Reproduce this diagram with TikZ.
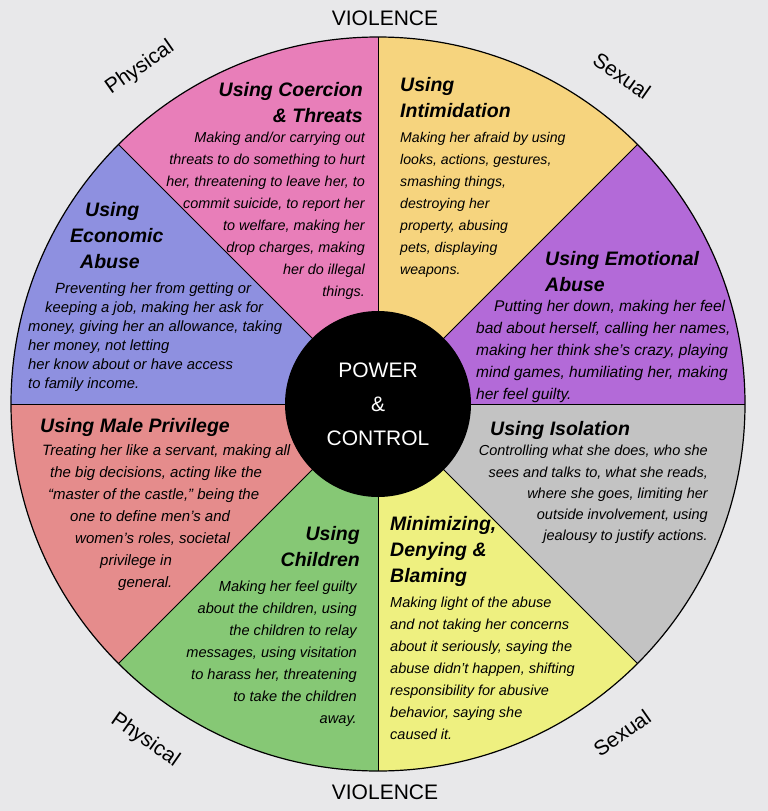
\documentclass[tikz,border=0pt]{standalone}
\usepackage{fontspec}
\setmainfont{Liberation Sans}
\definecolor{bgc}{HTML}{E8E8EA}
\definecolor{cOrange}{HTML}{F6D47E}
\definecolor{cPink}{HTML}{E87EB9}
\definecolor{cBlue}{HTML}{8E90E0}
\definecolor{cPurple}{HTML}{B36AD8}
\definecolor{cSalmon}{HTML}{E58C8C}
\definecolor{cGreen}{HTML}{86C875}
\definecolor{cYellow}{HTML}{EEF080}
\definecolor{cGray}{HTML}{C3C3C3}
\begin{document}
\begin{tikzpicture}[x=1pt,y=1pt,yscale=-1,
  body/.style={inner sep=0pt,font=\fontsize{#1}{22}\selectfont\itshape},
  body/.default=14.4,
  head/.style={inner sep=0pt,font=\fontsize{19.5}{26}\selectfont\bfseries\itshape},
  outer/.style={inner sep=0pt,font=\fontsize{21}{24}\selectfont},
  divider/.style={draw=black,line width=1pt}]
\fill[bgc] (0,0) rectangle (768,811);
\useasboundingbox (0,0) rectangle (768,811);
\coordinate (C) at (378,404);
\foreach \a/\c in {0/cPurple,45/cOrange,90/cPink,135/cBlue,180/cSalmon,225/cGreen,270/cYellow,315/cGray}{
  \fill[\c] (C) -- ++(-\a:367pt) arc[start angle=-\a,end angle=-\a-45,radius=367pt] -- cycle;
}
\foreach \a in {0,45,...,315}{
  \draw[divider] (C) -- ++(-\a:367pt);
}
\draw[black,line width=1.2pt] (C) circle[radius=367pt];
\node[circle,fill=black,minimum size=186pt,inner sep=0pt] (hub) at (C) {};
\node[align=center,text=white,inner sep=0pt,font=\fontsize{21}{34}\selectfont] (pc) at (C) {POWER\\\&\\CONTROL};

% outer labels
\node[outer] (v1) at (385,18) {VIOLENCE};
\node[outer] (v2) at (385,792) {VIOLENCE};
\node[outer,rotate=35] (p1) at (140,68) {Physical};
\node[outer,rotate=-35] (s1) at (622,76) {Sexual};
\node[outer,rotate=-35] (p2) at (145,740) {Physical};
\node[outer,rotate=35] (s2) at (622,733) {Sexual};

% Coercion
\node[head,anchor=north east,align=right] (h1) at (363,82) {Using Coercion\\\& Threats};
\node[body=14.4,anchor=north east,align=right] (b1) at (365,132) {Making and/or carrying out\\threats to do something to hurt\\her, threatening to leave her, to\\commit suicide, to report her\\to welfare, making her\\drop charges, making\\her do illegal\\things.};
% Intimidation
\node[head,anchor=north west,align=left] (h2) at (400,77) {Using\\Intimidation};
\node[body=14.1,anchor=north west,align=left] (b2) at (400,132) {Making her afraid by using\\looks, actions, gestures,\\smashing things,\\destroying her\\property, abusing\\pets, displaying\\weapons.};
% Economic
\node[head,anchor=north west,align=left] (h3) at (70,202) {\hspace*{15pt}Using\\Economic\\\hspace*{10pt}Abuse};
\node[inner sep=0pt,anchor=north west,align=left,font=\fontsize{14.8}{19}\selectfont\itshape] (b3) at (28,283) {\hspace*{27pt}Preventing her from getting or\\\hspace*{17pt}keeping a job, making her ask for\\money, giving her an allowance, taking\\her money, not letting\\her know about or have access\\to family income.};
% Emotional
\node[head,anchor=north west,align=left] (h4) at (545,251) {Using Emotional\\Abuse};
\node[body=15.5,anchor=north west,align=left] (b4) at (476,300) {\hspace*{18pt}Putting her down, making her feel\\bad about herself, calling her names,\\making her think she's crazy, playing\\mind games, humiliating her, making\\her feel guilty.};
% Male privilege
\node[head,anchor=north west,align=left] (h5) at (40,418) {Using Male Privilege};
\node[body=15,anchor=north west,align=left] (b5) at (42,444) {Treating her like a servant, making all\\\hspace*{8pt}the big decisions, acting like the\\\hspace*{6pt}“master of the castle,” being the\\\hspace*{28pt}one to define men’s and\\\hspace*{33pt}women’s roles, societal\\\hspace*{58pt}privilege in\\\hspace*{76pt}general.};
% Isolation
\node[head,anchor=north west,align=left] (h6) at (490,421) {Using Isolation};
\node[inner sep=0pt,anchor=north east,align=right,font=\fontsize{14.5}{21.3}\selectfont\itshape] (b6) at (708,445) {Controlling what she does, who she\\sees and talks to, what she reads,\\where she goes, limiting her\\outside involvement, using\\jealousy to justify actions.};
% Children
\node[head,anchor=north east,align=right] (h7) at (360,526) {Using\\Children};
\node[body=14.6,anchor=north east,align=right] (b7) at (357,581) {Making her feel guilty\\about the children, using\\the children to relay\\messages, using visitation\\to harass her, threatening\\to take the children\\away.};
% Minimizing
\node[head,anchor=north west,align=left] (h8) at (390,516) {Minimizing,\\Denying \&\\Blaming};
\node[body=14.5,anchor=north west,align=left] (b8) at (390,597) {Making light of the abuse\\and not taking her concerns\\about it seriously, saying the\\abuse didn’t happen, shifting\\responsibility for abusive\\behavior, saying she\\caused it.};
\end{tikzpicture}
\end{document}
